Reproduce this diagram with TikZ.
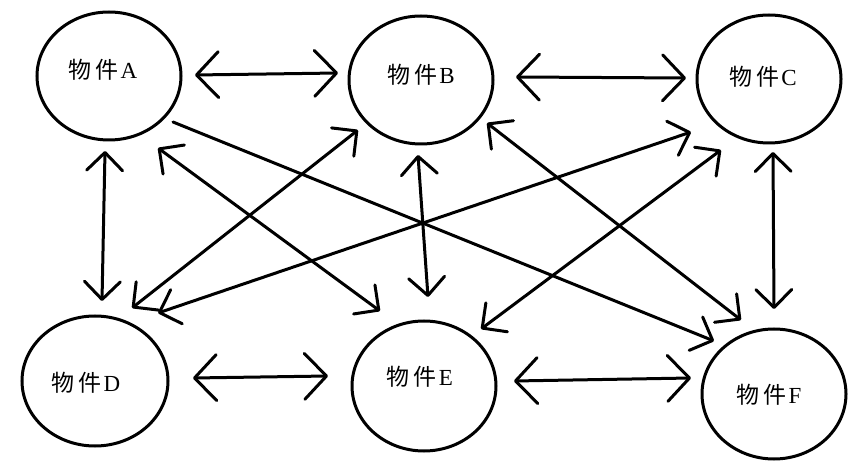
\documentclass[tikz,border=0pt]{standalone}
\usepackage{fontspec}
\setmainfont{Liberation Serif}
\newfontfamily\cjk{Noto Sans CJK SC}
\usetikzlibrary{shapes.geometric,arrows.meta,calc}
\begin{document}
\begin{tikzpicture}[x=1pt,y=-1pt,
  obj/.style={ellipse,draw,line width=3pt,minimum width=144pt,minimum height=128pt,inner sep=0pt},
  lab/.style={font=\fontsize{23}{23}\selectfont,inner sep=0pt},
  link/.style={line width=3pt,line cap=round,line join=round},
  bigh/.style={link,>={Straight Barb[length=22pt,width=46pt,round]}},
  smallh/.style={link,>={Straight Barb[length=18pt,width=36pt,round]}}
]
\fill[white] (0,0) rectangle (868,462);
\useasboundingbox (0,0) rectangle (868,462);

\node[obj,label={[lab,shift={(-6,-6)}]center:{\cjk 物\hspace{4pt}件}\hspace{2pt}A}] (A) at (109,76) {};
\node[obj,label={[lab,shift={(0,-5)}]center:{\cjk 物\hspace{4pt}件}\hspace{2pt}B}] (B) at (421,80) {};
\node[obj,label={[lab,shift={(-6,-2)}]center:{\cjk 物\hspace{4pt}件}\hspace{2pt}C}] (C) at (769,79) {};
\node[obj,minimum width=146pt,minimum height=130pt,label={[lab,shift={(-9,2)}]center:{\cjk 物\hspace{4pt}件}\hspace{2pt}D}] (D) at (95,381) {};
\node[obj,minimum width=144pt,minimum height=130pt,label={[lab,shift={(-4,-9)}]center:{\cjk 物\hspace{4pt}件}\hspace{2pt}E}] (E) at (424,386) {};
\node[obj,minimum width=144pt,minimum height=130pt,label={[lab,shift={(-5,1)}]center:{\cjk 物\hspace{4pt}件}\hspace{2pt}F}] (F) at (774,394) {};

% horizontal
\draw[bigh,<->] ($(A)+(86,-1)$) -- ($(B)+(-83,-7)$);
\draw[bigh,<->] ($(B)+(95,-3)$) -- ($(C)+(-83,-1)$);
\draw[bigh,<->] ($(D)+(98,-3)$) -- ($(E)+(-96,-10)$);
\draw[bigh,<->] ($(E)+(90,-5)$) -- ($(F)+(-83,-16)$);
% vertical
\draw[smallh,<->] ($(A)+(-4,75)$) -- ($(D)+(7,-80)$);
\draw[smallh,<->] ($(B)+(-3,75)$) -- ($(E)+(4,-89)$);
\draw[smallh,<->] ($(C)+(4,73)$) -- ($(F)+(0,-85)$);
% diagonals
\draw[smallh,<->] ($(A)+(49,72)$) -- ($(E)+(-44,-75)$);
\draw[smallh,->] ($(A)+(64,46)$) -- ($(F)+(-60,-53)$);
\draw[smallh,<->] ($(B)+(-63,50)$) -- ($(D)+(37,-73)$);
\draw[smallh,<->] ($(C)+(-78,53)$) -- ($(D)+(63,-68)$);
\draw[smallh,<->] ($(C)+(-48,71)$) -- ($(E)+(57,-57)$);
\draw[smallh,<->] ($(B)+(66,43)$) -- ($(F)+(-33,-74)$);
\end{tikzpicture}
\end{document}
